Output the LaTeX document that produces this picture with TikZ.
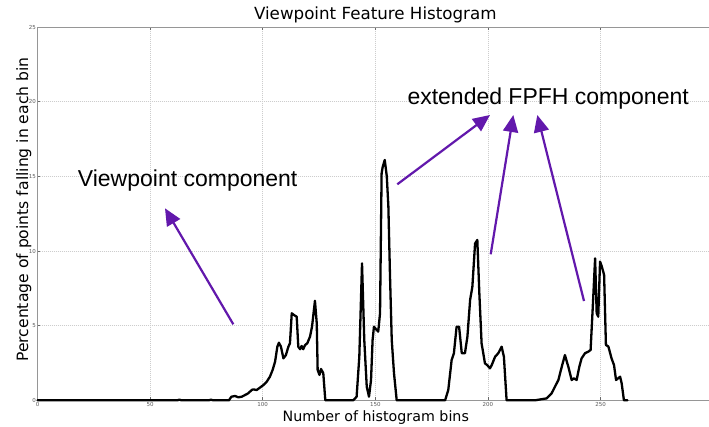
\documentclass[tikz,border=0pt]{standalone}
\usepackage{fontspec}
\setmainfont{DejaVu Sans}
\newfontfamily\arialf{Liberation Sans}
\usetikzlibrary{arrows.meta}
\definecolor{arrowpurple}{RGB}{98,24,172}
\definecolor{spinegray}{RGB}{150,150,150}
\definecolor{gridgray}{RGB}{205,205,205}
\definecolor{ticktext}{RGB}{90,90,90}
\tikzset{
  spine/.style={draw=spinegray, line width=1pt},
  gridline/.style={draw=gridgray, line width=0.6pt, dash pattern=on 1pt off 1pt},
  curve/.style={draw=black, line width=2.3pt, line join=round, line cap=round},
  callout/.style={draw=arrowpurple, line width=2.2pt, -{Triangle[length=17pt,width=15pt]}},
  ticklabel/.style={text=ticktext, font=\fontsize{5.5}{6}\selectfont, inner sep=0.5pt},
  annot/.style={font=\arialf\fontsize{23}{27}\selectfont, inner sep=0pt, anchor=base west},
  axlabel/.style={font=\fontsize{14.25}{17}\selectfont, inner sep=0pt, anchor=base},
  tickmark/.style={draw=spinegray!70!black, line width=0.6pt}
}
\begin{document}
\begin{tikzpicture}[x=1pt,y=-1pt]
\useasboundingbox (0,0) rectangle (709,427);
\fill[white] (0,0) rectangle (709,427);
% plot area
\begin{scope}[shift={(37.5,400.3)}, x=2.252pt, y=14.93pt]
  \foreach \b in {50,100,150,200,250} \draw[gridline] (\b,0) -- (\b,25);
  \foreach \v in {5,10,15,20} \draw[gridline] (0,\v) -- (298.2,\v);
  \foreach \b in {50,100,150,200,250} {
    \draw[tickmark] (\b,0) -- ++(0,0.2);
    \draw[tickmark] (\b,25) -- ++(0,-0.2);
  }
  \foreach \v in {5,10,15,20} \draw[tickmark] (0,\v) -- ++(1.3,0);
  \draw[spine] (0,25) -- (0,0);
  \draw[spine] (0,25) -- (298.2,25);
  \draw[spine] (0,0) -- (298.2,0);
  \foreach \v in {0,5,10,15,20,25} \node[ticklabel, anchor=east] (yl\v) at ([xshift=-1pt]0,\v) {\v};
  \foreach \b in {0,50,100,150,200,250} \node[ticklabel, anchor=north] (xl\b) at ([yshift=-1.5pt]\b,0) {\b};
  \draw[curve] plot coordinates {
    (0,0) (62,0) (63,0.04) (64,0) (76,0) (77,0.04) (78,0) (85,0) (86.1,0.24) (87.7,0.29) (89.2,0.2) (90.7,0.24) (92.1,0.35) (93.6,0.47)
    (95.1,0.69) (95.8,0.73) (97.3,0.69) (98.8,0.85) (100.3,1.02) (101.8,1.25) (103.2,1.58)
    (104.4,2.03) (105.5,2.59) (106.5,3.59) (107.2,3.86) (108.1,3.59) (109.2,2.81) (110.3,3.03)
    (111.4,3.59) (112.1,3.82) (112.9,5.83) (113.9,5.71) (115.1,5.6) (115.8,3.59) (116.6,3.42)
    (117.3,3.64) (118.0,3.42) (118.8,3.70) (119.8,3.82) (121.0,4.26) (121.9,4.93) (123.2,6.67)
    (124.0,5.16) (124.4,2.03) (125.2,1.70) (125.9,2.10) (126.9,1.81) (127.8,0)
    (140.2,0) (141.7,0.24) (142.9,2.92) (144.1,9.17) (145.1,4.04) (146.2,0.91) (147.2,0.24)
    (148.1,1.36) (148.8,4.04) (149.4,4.93) (150.6,4.71) (151.3,4.60) (152.1,5.83) (152.8,15.2)
    (153.3,15.64) (154.2,16.1) (155.1,15.0) (155.8,13.0) (156.5,8.5) (157.3,4.04) (158.3,1.81)
    (159.5,0) (181.0,0) (182.4,0.69) (183.9,2.70) (184.9,3.15) (186.1,4.93) (187.2,4.93)
    (188.4,3.15) (189.8,3.15) (190.9,4.26) (192.1,6.72) (193.1,7.61) (194.3,10.5) (195.3,10.74)
    (196.2,7.16) (197.2,3.81) (198.7,2.47) (199.7,2.36) (200.9,2.14) (201.7,2.36) (203.2,2.92)
    (204.6,3.15) (206.1,3.59) (207.1,2.92) (208.3,0) (220.9,0) (226.1,0.13) (228.3,0.47)
    (229.8,0.92) (231.3,1.36) (232.8,2.25) (234.2,3.03) (235.7,2.25) (237.2,1.36) (238.2,1.47)
    (239.4,1.36) (240.6,2.25) (241.6,2.81) (243.1,3.15) (244.6,3.26) (245.6,3.37) (246.5,6.05)
    (247.6,9.51) (248.3,5.83) (249.0,5.60) (249.8,9.29) (250.5,9.0) (251.6,8.40) (252.4,3.71)
    (253.5,3.60) (254.9,2.81) (256.0,2.36) (256.9,1.36) (257.8,1.47) (258.7,1.58) (259.4,1.14)
    (260.4,0) (262,0)
  };
\end{scope}
% titles and labels
\node[axlabel, font=\fontsize{16.7}{20}\selectfont] (title) at (375.3,20) {Viewpoint Feature Histogram};
\node[axlabel] (xlabel) at (375.8,421) {Number of histogram bins};
\node[axlabel, rotate=90, font=\fontsize{15.6}{18}\selectfont] (ylabel) at (28,209.5) {Percentage of points falling in each bin};
% annotations
\node[annot] (vp) at (77.7,187) {Viewpoint component};
\node[annot] (fpfh) at (407.3,105) {extended FPFH component};
\coordinate (a1s) at (233.3,324.3);
\coordinate (a1e) at (165,208.3);
\coordinate (a2s) at (397.3,184.3);
\coordinate (a2e) at (490,115);
\coordinate (a3s) at (490.7,254.3);
\coordinate (a3e) at (513.3,115);
\coordinate (a4s) at (584,301);
\coordinate (a4e) at (537.3,115);
\draw[callout] (a1s) -- (a1e);
\draw[callout] (a2s) -- (a2e);
\draw[callout] (a3s) -- (a3e);
\draw[callout] (a4s) -- (a4e);
\end{tikzpicture}
\end{document}
